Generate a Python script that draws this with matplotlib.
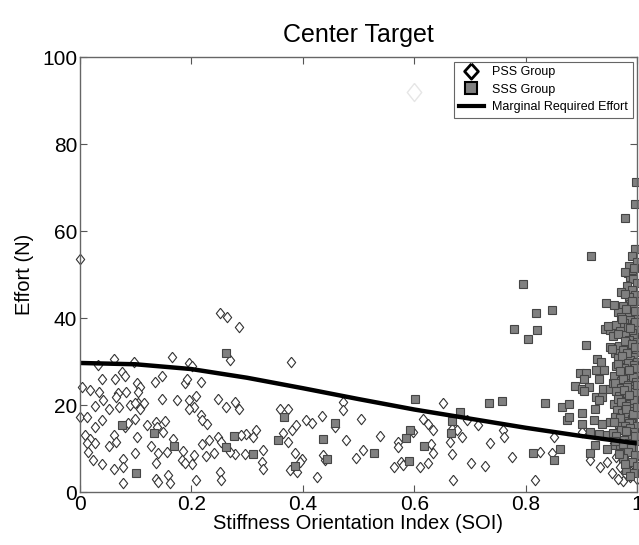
import matplotlib.pyplot as plt
from matplotlib.lines import Line2D

# PSS group (open diamonds)
pss_x = [
    0.000, 0.252, 0.264, 0.286, 0.269, 0.379,
    0.166, 0.061, 0.097, 0.033, 0.195, 0.201, 0.075, 0.081, 0.039, 0.063, 0.102, 0.108,
    0.135, 0.147, 0.189, 0.193, 0.217, 0.003, 0.018, 0.034, 0.069, 0.065, 0.082, 0.105,
    0.104, 0.147, 0.174, 0.195, 0.209, 0.205, 0.195, 0.247, 0.042, 0.027, 0.053, 0.070,
    0.090, 0.108, 0.115, 0.099, 0.000, 0.012, 0.039, 0.028, 0.081, 0.099, 0.087, 0.120,
    0.136, 0.153, 0.139, 0.150, 0.217, 0.220, 0.229, 0.009, 0.018, 0.027, 0.012, 0.062,
    0.065, 0.053, 0.102, 0.099, 0.127, 0.141, 0.136, 0.157, 0.168, 0.185, 0.184, 0.205,
    0.202, 0.220, 0.226, 0.232, 0.241, 0.247, 0.254, 0.014, 0.024, 0.039, 0.062, 0.077,
    0.078, 0.077, 0.136, 0.141, 0.159, 0.162, 0.189, 0.209, 0.251, 0.253,
    0.263, 0.278, 0.286, 0.359, 0.374, 0.473, 0.473, 0.504, 0.406, 0.416, 0.434, 0.458,
    0.478, 0.316, 0.311, 0.298, 0.290, 0.364, 0.380, 0.388, 0.374, 0.328, 0.326, 0.328,
    0.278, 0.269, 0.296, 0.386, 0.398, 0.395, 0.377, 0.389, 0.437, 0.440, 0.426, 0.496, 0.508,
    0.652, 0.539, 0.616, 0.625, 0.634, 0.598, 0.571, 0.571, 0.631, 0.633,
    0.667, 0.676, 0.664, 0.685, 0.694, 0.715, 0.736, 0.760, 0.762,
    0.576, 0.580, 0.563, 0.610, 0.625, 0.668, 0.670, 0.702, 0.727, 0.776,
    0.826, 0.847, 0.817, 0.901, 0.850, 0.916, 0.934, 0.946, 0.963, 0.969, 0.978, 0.990,
    0.981, 0.972, 0.987, 0.996, 0.999, 0.958, 0.975, 0.993, 0.985, 0.955, 0.998, 0.965,
]
pss_y = [
    53.6, 41.2, 40.3, 37.9, 30.3, 30.0,
    31.1, 30.6, 30.0, 29.2, 29.6, 28.9, 27.7, 26.7, 25.9, 26.1, 25.0, 24.2,
    25.4, 26.7, 25.0, 25.9, 25.4, 24.2, 23.4, 23.1, 22.7, 21.9, 23.1, 23.1,
    20.4, 21.5, 21.1, 21.1, 22.1, 19.6, 19.2, 21.5, 21.1, 19.8, 19.2, 19.6,
    20.0, 19.2, 20.4, 20.5, 17.3, 17.2, 16.6, 15.0, 15.0, 16.9, 15.8, 15.4,
    16.2, 16.3, 15.0, 13.9, 17.7, 16.6, 15.6, 13.1, 12.3, 11.2, 11.2, 13.1,
    11.6, 10.6, 12.7, 9.0, 10.6, 9.0, 6.6, 9.3, 12.3, 9.4, 7.5, 8.5,
    6.4, 11.0, 8.3, 12.1, 9.0, 12.7, 11.6, 9.3, 7.5, 6.4, 5.4, 7.7,
    5.8, 2.0, 3.1, 2.4, 3.9, 2.0, 6.6, 2.9, 4.7, 2.8,
    19.6, 20.8, 19.2, 19.2, 19.2, 20.8, 18.9, 16.9, 16.7, 15.9, 17.5, 14.9,
    12.0, 14.4, 12.7, 13.3, 13.1, 13.5, 14.4, 15.4, 11.6, 9.8, 7.0, 5.4,
    8.7, 9.3, 8.7, 8.9, 7.7, 7.0, 5.1, 4.7, 8.5, 7.4, 3.5, 7.9, 9.8,
    20.5, 12.9, 16.9, 15.6, 14.4, 13.9, 11.6, 10.4, 11.0, 9.0,
    14.6, 14.3, 11.6, 12.7, 16.6, 15.4, 11.3, 14.3, 12.7,
    7.0, 6.2, 5.8, 5.8, 6.6, 8.7, 2.9, 6.7, 6.0, 8.1,
    9.3, 8.9, 2.9, 13.9, 12.7, 7.4, 5.8, 7.0, 8.1, 5.8, 4.3, 6.6,
    7.4, 10.0, 3.5, 5.1, 3.1, 11.2, 2.5, 9.0, 12.0, 4.5, 8.0, 3.0,
]

# SSS group (grey squares)
sss_x = [
    0.076, 0.133, 0.169, 0.101, 0.262, 0.367, 0.276, 0.263, 0.311, 0.355, 0.437, 0.457,
    0.443, 0.386, 0.601, 0.682, 0.668, 0.666, 0.592, 0.585, 0.618, 0.527, 0.591, 0.735,
    0.758, 0.779, 0.796, 0.819, 0.848, 0.820, 0.805, 0.944, 0.943, 0.952, 0.947, 0.908,
    0.952, 0.962, 0.928, 0.935, 0.926, 0.941, 0.898, 0.908, 0.904, 0.931, 0.889, 0.901,
    0.913, 0.904, 0.926, 0.938, 0.952, 0.957, 0.937, 0.931, 0.835, 0.865, 0.877, 0.874,
    0.877, 0.901, 0.901, 0.922, 0.925, 0.937, 0.952, 0.964, 0.916, 0.931, 0.946, 0.957,
    0.925, 0.916, 0.946, 0.961, 0.814, 0.862, 0.850, 0.998, 0.996, 0.978, 0.998, 0.917,
    0.983, 0.987, 0.990,
    0.997, 0.991, 0.999, 0.985, 0.995, 0.978,
    0.993, 0.999, 0.982, 0.990, 0.972, 0.996, 0.986, 0.979,
    0.998, 0.988, 0.975, 0.993, 0.965, 0.984, 0.999, 0.971, 0.990, 0.958, 0.981, 0.996,
    0.987, 0.976, 0.994, 0.962, 0.983, 0.999, 0.969, 0.991, 0.978, 0.957, 0.995, 0.985,
    0.973, 0.997, 0.966, 0.988,
    0.999, 0.980, 0.992, 0.968, 0.986, 0.975, 0.997, 0.961, 0.983, 0.993, 0.970, 0.988,
    0.999, 0.978, 0.955, 0.991, 0.966, 0.982, 0.996, 0.973,
    0.984, 0.995, 0.963, 0.977, 0.990, 0.970, 0.999, 0.986, 0.958, 0.981, 0.994, 0.972,
    0.988, 0.966, 0.997, 0.979, 0.992, 0.960, 0.985, 0.975, 0.998, 0.969,
    0.983, 0.996, 0.971, 0.989, 0.962, 0.979, 0.993, 0.968, 0.986, 0.999, 0.975, 0.991,
    0.959, 0.982, 0.997, 0.966, 0.988, 0.977, 0.994, 0.972, 0.985, 0.999,
    0.980, 0.995, 0.964, 0.987, 0.973, 0.998, 0.983, 0.961, 0.991, 0.976, 0.989, 0.968,
    0.997, 0.981, 0.993, 0.970, 0.985, 0.958, 0.999, 0.978,
    0.987, 0.972, 0.995, 0.982, 0.963, 0.991, 0.977, 0.998, 0.985, 0.969, 0.993, 0.980,
    0.996, 0.975, 0.989, 0.960,
    0.984, 0.997, 0.975, 0.990, 0.999, 0.981, 0.994, 0.968, 0.987, 0.978,
]
sss_y = [
    15.4, 13.5, 10.6, 4.3, 31.9, 17.3, 12.9, 10.4, 8.7, 12.0, 12.3, 15.8,
    7.7, 6.0, 21.3, 18.5, 16.4, 13.6, 14.4, 12.5, 10.6, 8.9, 7.2, 20.6,
    20.9, 37.4, 47.8, 41.2, 41.8, 37.2, 35.3, 43.5, 37.6, 37.2, 38.2, 33.9,
    33.3, 33.0, 30.5, 30.0, 28.0, 28.0, 27.4, 27.4, 26.1, 26.0, 24.4, 23.8,
    24.2, 23.3, 21.9, 23.8, 23.8, 25.1, 21.9, 21.1, 20.4, 19.6, 20.2, 16.7,
    17.3, 18.1, 15.6, 16.6, 19.2, 15.6, 16.2, 16.2, 13.9, 13.3, 13.1, 13.6,
    10.8, 8.9, 10.0, 10.8, 9.0, 10.0, 7.5, 71.3, 66.2, 63.1, 55.8, 54.4,
    50.3, 49.5, 51.0,
    56.0, 54.2, 53.0, 52.1, 51.5, 50.6,
    49.0, 48.1, 47.5, 46.4, 46.0, 45.3, 44.8, 45.6,
    44.0, 43.2, 42.7, 42.0, 41.4, 41.0, 40.6, 40.2, 43.9, 43.0, 42.1, 41.7,
    39.6, 39.0, 38.7, 38.4, 38.0, 37.5, 37.0, 36.6, 36.1, 35.8, 35.4, 35.0,
    39.8, 39.2, 36.4, 37.8,
    34.6, 34.2, 33.8, 33.5, 33.0, 32.6, 32.2, 31.9, 31.5, 31.0, 30.6, 30.3,
    30.0, 34.8, 32.9, 34.1, 30.9, 32.0, 33.3, 31.3,
    29.6, 29.2, 28.9, 28.5, 28.1, 27.7, 27.3, 26.9, 26.6, 26.2, 25.8, 25.5,
    25.1, 29.5, 28.6, 27.0, 26.5, 25.2, 28.0, 26.0, 25.3, 27.9,
    24.7, 24.3, 24.0, 23.6, 23.2, 22.9, 22.5, 22.1, 21.8, 21.4, 21.0, 20.6,
    20.3, 24.1, 23.0, 21.5, 20.2, 23.4, 21.1, 20.8, 22.3, 24.6,
    19.8, 19.4, 19.0, 18.7, 18.3, 17.9, 17.5, 17.2, 16.8, 16.4, 16.0, 15.6,
    15.3, 19.1, 18.0, 17.0, 15.8, 16.1, 19.6, 15.2,
    14.8, 14.3, 13.9, 13.4, 13.0, 12.6, 12.1, 11.7, 11.2, 10.8, 10.4, 14.0,
    12.9, 11.0, 10.1, 11.8,
    9.3, 8.6, 7.9, 7.0, 6.1, 5.2, 4.4, 8.8, 3.6, 6.4,
]

# marginal required effort curve
soi_curve = [0.0, 0.1, 0.2, 0.3, 0.4, 0.5, 0.6, 0.7, 0.8, 0.9, 1.0]
effort_curve = [29.7, 29.4, 28.3, 26.3, 23.9, 21.4, 19.0, 16.9, 14.8, 12.9, 11.2]

# faint marker near the top of the plot
ghost_x = [0.6]
ghost_y = [92.0]

plt.rcParams['font.family'] = ['Liberation Sans', 'DejaVu Sans']

fig, ax = plt.subplots(figsize=(6.39, 5.45), dpi=100)
fig.subplots_adjust(left=0.125, right=0.997, bottom=0.097, top=0.895)

diamond = [(0, 1), (0.8, 0), (0, -1), (-0.8, 0), (0, 1)]

ax.plot(ghost_x, ghost_y, ls='none', marker=diamond, ms=13, mfc='white',
        mec='#e6e6e6', mew=1)
ax.plot(pss_x, pss_y, ls='none', marker=diamond, ms=7.5, mfc='white',
        mec='#333333', mew=0.8, clip_on=False)
ax.plot(sss_x, sss_y, ls='none', marker='s', ms=6.3, mfc='#808080',
        mec='#454545', mew=0.8, clip_on=False)
ax.plot(soi_curve, effort_curve, color='black', lw=3.2, solid_capstyle='butt')

ax.set_xlim(0, 1)
ax.set_ylim(0, 100)
ax.set_xticks([0, 0.2, 0.4, 0.6, 0.8, 1])
ax.set_xticklabels(['0', '0.2', '0.4', '0.6', '0.8', '1'])
ax.set_yticks([0, 20, 40, 60, 80, 100])
ax.tick_params(direction='in', top=True, right=True, length=5, width=0.8,
               color='#555555', labelsize=15, pad=2)
for s in ax.spines.values():
    s.set_color('#666666')
    s.set_linewidth(1)

ax.set_title('Center Target', fontsize=18, pad=11)
ax.set_xlabel('Stiffness Orientation Index (SOI)', fontsize=14.5, labelpad=0)
ax.set_ylabel('Effort (N)', fontsize=14.5, labelpad=6)

handles = [
    Line2D([], [], ls='none', marker=[(0, 1), (0.9, 0), (0, -1), (-0.9, 0), (0, 1)],
           ms=11, mfc='white', mec='black', mew=2),
    Line2D([], [], ls='none', marker='s', ms=8, mfc='#808080', mec='black', mew=1.5),
    Line2D([], [], color='black', lw=3),
]
leg = ax.legend(handles, ['PSS Group', 'SSS Group', 'Marginal Required Effort'],
                loc='upper right', fontsize=9, fancybox=False, framealpha=1,
                edgecolor='#666666', borderpad=0.35, labelspacing=0.45,
                handlelength=2.0, handletextpad=0.7, borderaxespad=0.35)
leg.get_frame().set_linewidth(0.8)

fig.savefig('out.png', dpi=100)
